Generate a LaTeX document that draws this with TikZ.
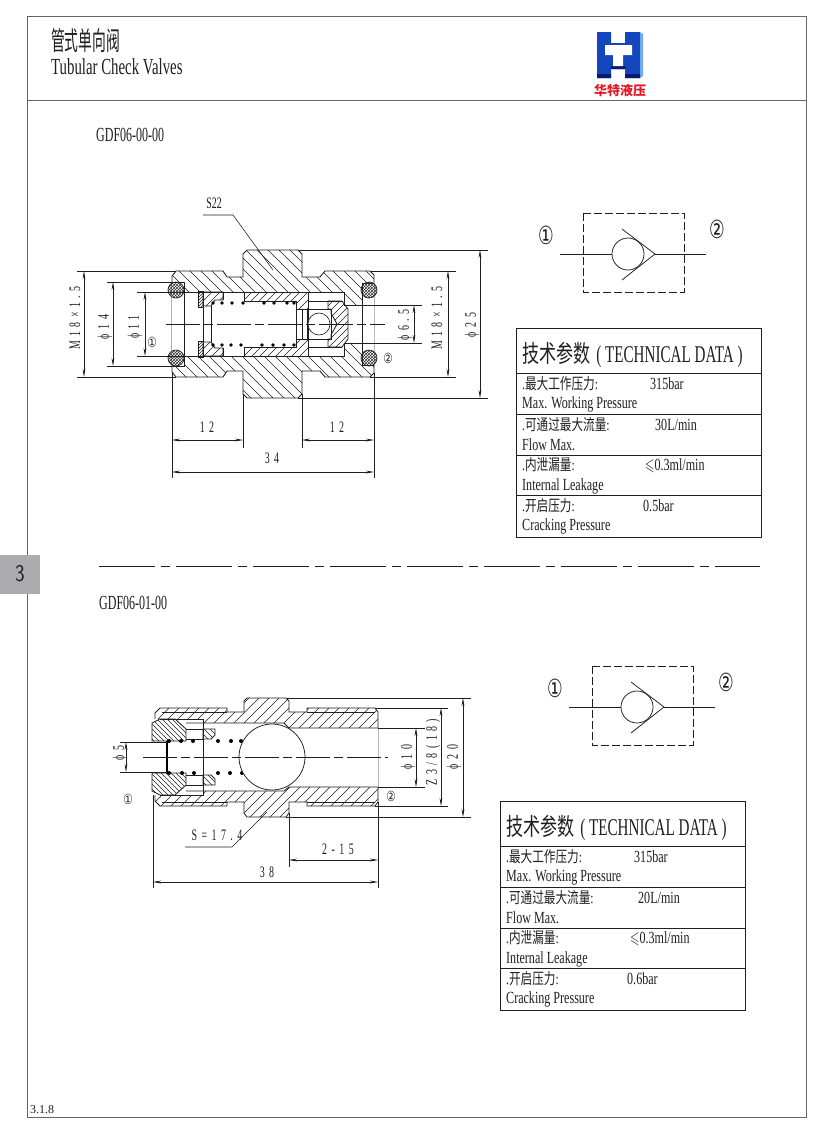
\documentclass[tikz,border=0pt]{standalone}
\usepackage{fontspec}
\usepackage{graphicx}
\usepackage{amssymb}
\usetikzlibrary{arrows.meta,patterns,shadings}
\setmainfont{Liberation Serif}
\newfontfamily\cjk{Noto Sans CJK SC}
\newfontfamily\circf{DejaVu Sans}
\newfontfamily\dimf[LetterSpace=45]{Liberation Serif}
\definecolor{ink}{gray}{0.12}
\definecolor{frame}{gray}{0.4}
\definecolor{tabgray}{RGB}{172,172,176}
\definecolor{logoblue}{RGB}{20,70,190}
\definecolor{logolight}{RGB}{110,170,240}
\definecolor{logodark}{RGB}{10,25,110}
\newcommand\nar[2][.71]{\scalebox{#1}[1]{#2}}
\newcommand\dimt[1]{\fontsize{16}{16}\selectfont\nar[.62]{\dimf #1}}
\newcommand\zh[1]{{\cjk #1}}
\newcommand\hatchB[3]{\begin{scope}\clip #1;\foreach \i in {100,#3,...,520}{\draw[hatchline] (\i-130,#2-130) -- (\i+130,#2+130);}\end{scope}}
\newcommand\hatchS[3]{\begin{scope}\clip #1;\foreach \i in {100,#3,...,520}{\draw[hatchline] (\i-130,#2+130) -- (\i+130,#2-130);}\end{scope}}
\tikzset{
  x=1pt,y=-1pt,
  hatchline/.style={line width=.5pt,draw=ink},
  part/.style={line width=.85pt,draw=ink},
  heavy/.style={line width=1.2pt,draw=black},
  thinl/.style={line width=.55pt,draw=ink},
  dimline/.style={line width=.55pt,draw=ink,{Stealth[length=8pt,width=2.8pt]}-{Stealth[length=8pt,width=2.8pt]}},
  centre/.style={line width=.5pt,draw=ink,dash pattern=on 34pt off 4pt on 9pt off 4pt},
  dimtext/.style={inner sep=0pt,text=ink},
  txt/.style={inner sep=0pt,anchor=west,text=ink,font=\fontsize{17}{17}\selectfont},
  zhtxt/.style={inner sep=0pt,anchor=west,text=ink,font=\fontsize{15.5}{15.5}\selectfont},
  dotm/.style={fill=black,draw=none},
  oring/.style={draw=ink,line width=.7pt,pattern=crosshatch,pattern color=black!80},
  box/.style={line width=.9pt,draw=ink},
  symb/.style={line width=.75pt,draw=ink},
  symbdash/.style={line width=.7pt,draw=ink,dash pattern=on 8pt off 3pt}
}
\newcommand\circn[1]{\fontsize{14}{14}\selectfont\nar[.75]{\circf #1}}
\newcommand\circb[1]{\fontsize{25}{25}\selectfont\nar[.7]{\circf #1}}
\newcommand\techtable[9]{%
\begin{scope}[shift={(#2,#3)}]
  \draw[box] (0,0) rectangle (245,209);
  \draw[thinl] (0,45) -- (245,45) (0,86) -- (245,86) (0,127) -- (245,127) (0,167) -- (245,167);
  \node[txt] (#1t) at (6,27) {\fontsize{24}{24}\selectfont\nar[.71]{\zh{技术参数}}\hspace{6pt}\nar[.63]{( TECHNICAL DATA )}};
  \node[zhtxt] (#1a) at (6,56) {\nar[.75]{.\zh{最大工作压力}:}};
  \node[txt] (#1av) at (#4,56) {\nar{315bar}};
  \node[txt] (#1b) at (6,76) {\nar{Max. Working Pressure}};
  \node[zhtxt] (#1c) at (6,97) {\nar[.75]{.\zh{可通过最大流量}:}};
  \node[txt] (#1cv) at (#5,97) {\nar{#6}};
  \node[txt] (#1d) at (6,117) {\nar{Flow Max.}};
  \node[zhtxt] (#1e) at (6,137) {\nar[.75]{.\zh{内泄漏量}:}};
  \node[txt] (#1ev) at (#7,138) {\nar{$\leqslant$0.3ml/min}};
  \node[txt] (#1f) at (6,158) {\nar{Internal Leakage}};
  \node[zhtxt] (#1g) at (6,178) {\nar[.75]{.\zh{开启压力}:}};
  \node[txt] (#1gv) at (#8,178) {\nar{#9}};
  \node[txt] (#1h) at (6,198) {\nar{Cracking Pressure}};
\end{scope}}
\newcommand\checksym[2]{%
\begin{scope}[shift={(#2)}]
  \draw[symbdash] (583,213) rectangle (684,292);
  \coordinate (#1a) at (560,254); \coordinate (#1b) at (706,254);
  \node[circle,draw=ink,line width=.75pt,minimum size=32pt,inner sep=0pt] (#1c) at (628,254) {};
  \coordinate (#1t) at (655,254);
  \draw[symb] (#1a) -- (#1c.west);
  \draw[symb] (#1t) -- (#1b);
  \draw[symb] (622,229) -- (#1t) -- (622,280);
  \node[inner sep=0pt,text=ink] (#1n) at (546,235) {\circb{①}};
  \node[inner sep=0pt,text=ink] (#1m) at (717,229) {\circb{②}};
\end{scope}}
\begin{document}
\begin{tikzpicture}
\useasboundingbox (0,0) rectangle (831,1128);
\fill[white] (0,0) rectangle (831,1128);
% frame and header
\draw[line width=.8pt,draw=frame] (27,16) rectangle (806,1117);
\draw[line width=.8pt,draw=frame] (27,100) -- (806,100);
\node[txt,font=\fontsize{26}{26}\selectfont] (titlezh) at (51,41) {\nar[.53]{\zh{管式单向阀}}};
\node[txt,font=\fontsize{23}{23}\selectfont] (titleen) at (51,67) {\nar[.645]{Tubular Check Valves}};
\node[txt,font=\fontsize{20}{20}\selectfont] (modela) at (96,135) {\nar[.6]{GDF06-00-00}};
\node[txt,font=\fontsize{20}{20}\selectfont] (modelb) at (99,603) {\nar[.6]{GDF06-01-00}};
\node[txt,font=\fontsize{12}{12}\selectfont] (pageno) at (30,1110) {3.1.8};
% logo
\fill[logoblue] (597,32) -- (611,32) -- (611,43) -- (625,43) -- (625,32) -- (640,32) -- (640,78) -- (625,78) -- (625,69) -- (611,69) -- (611,78) -- (597,78) -- cycle;
\fill[logolight] (640,32) -- (643,34) -- (643,76) -- (640,78) -- cycle;
\fill[logodark] (597,74) rectangle (611,78) (625,74) rectangle (640,78) (611,66) rectangle (625,69);
\fill[white] (605,45) rectangle (632,55) (613,55) rectangle (623,66);
\node[inner sep=0pt,text={rgb,255:red,225;green,25;blue,35},font=\fontsize{13}{13}\selectfont\bfseries] (logotext) at (620,91) {\zh{华特液压}};
% tab
\fill[tabgray] (0,555) rectangle (40,594);
\node[inner sep=0pt,text=ink,font=\fontsize{24}{24}\selectfont] (tabn) at (20,574) {\nar[.85]{\sffamily 3}};
% separator
\draw[line width=.6pt,draw=ink,dash pattern=on 56pt off 6pt on 9pt off 6pt] (99,566) -- (760,566);

%%%%%%%%%%%% valve 1
\def\bodyA{(172,276) -- (176,271) -- (223,271) -- (227,277) -- (243,277) -- (243,254) -- (247,250) -- (298,250) -- (302,254) -- (302,277) -- (320,277) -- (325,271) -- (370,271) -- (374,275) -- (374,373) -- (370,377) -- (325,377) -- (320,371) -- (302,371) -- (302,394) -- (298,398) -- (247,398) -- (243,394) -- (243,371) -- (227,371) -- (223,377) -- (176,377) -- (172,372) -- cycle}
\hatchB{\bodyA}{324}{111}
\draw[part] \bodyA;
\fill[white] (172,282) -- (184,282) -- (184,292) -- (344,292) -- (344,305) -- (362,305) -- (362,283) -- (374,283) -- (374,365) -- (362,365) -- (362,343) -- (344,343) -- (344,356) -- (184,356) -- (184,366) -- (172,366) -- cycle;
\draw[part] (172,282) -- (184,282) -- (184,366) -- (172,366);
\draw[part] (184,292) -- (344,292) -- (344,305) -- (362,305) -- (362,283) -- (374,283);
\draw[part] (184,356) -- (344,356) -- (344,343) -- (362,343) -- (362,365) -- (374,365);
\draw[part] (362,283) -- (362,365);
% sleeve pieces, upper and lower
\def\sA{(203,292) -- (223,292) -- (223,300) -- (215,300) -- (211,306) -- (203,306) -- cycle}
\def\sB{(203,356) -- (223,356) -- (223,348) -- (215,348) -- (211,342) -- (203,342) -- cycle}
\def\sC{(244,292) -- (308,292) -- (308,309) -- (296,309) -- (296,301) -- (244,301) -- cycle}
\def\sD{(244,356) -- (308,356) -- (308,339) -- (296,339) -- (296,347) -- (244,347) -- cycle}
\def\sE{(198,291) rectangle (203,307)}
\def\sF{(198,341) rectangle (203,357)}
\hatchS{\sA}{324}{108}\draw[part] \sA;
\hatchS{\sB}{324}{108}\draw[part] \sB;
\hatchS{\sC}{324}{108}\draw[part] \sC;
\hatchS{\sD}{324}{108}\draw[part] \sD;
\hatchS{\sE}{324}{103}\draw[part] \sE;
\hatchS{\sF}{324}{103}\draw[part] \sF;
\draw[thinl] (211,306) -- (211,342);
\draw[part] (223,300) -- (223,292) (223,348) -- (223,356);
\draw[thinl] (203,306) -- (203,342);
\draw[part] (296,309) -- (296,339);
\draw[thinl] (302,309) -- (302,339);
% cage and poppet
\draw[part] (308,301) -- (342,301) (308,347) -- (342,347);
\draw[part] (308,292) -- (308,356);
\def\pop{(328,301) -- (342,301) -- (348,309) -- (348,339) -- (342,347) -- (328,347) -- (328,339) -- (331,339) -- (331,335) -- (337,324) -- (331,313) -- (331,309) -- (328,309) -- cycle}
\hatchS{\pop}{324}{107}
\draw[part] \pop;
\draw[part] (307,309) rectangle (331,339);
\node[circle,draw=ink,line width=.65pt,fill=white,minimum size=22pt,inner sep=0pt] (ballA) at (319,324) {};
% springs
\foreach \x in {213,222,232,243,264,274,287,294}{\fill[dotm] (\x,303) circle (1.9);}
\foreach \x in {213,222,231,241,262,273,284,294}{\fill[dotm] (\x,345) circle (1.9);}
% O-rings
\node[circle,oring,minimum size=16pt,inner sep=0pt] (ringa) at (176,290) {};
\node[circle,oring,minimum size=16pt,inner sep=0pt] (ringb) at (176,358) {};
\node[circle,oring,minimum size=16pt,inner sep=0pt] (ringc) at (369,290) {};
\node[circle,oring,minimum size=16pt,inner sep=0pt] (ringd) at (369,358) {};
\draw[centre] (166,324) -- (385,324);
% dims valve 1
\draw[thinl] (77,271) -- (176,271) (77,377) -- (176,377);
\draw[dimline] (84,271) -- (84,377);
\node[dimtext,rotate=90] (d1a) at (75,318) {\dimt{M18×1.5}};
\draw[thinl] (107,282) -- (172,282) (107,366) -- (172,366);
\draw[dimline] (113,282) -- (113,366);
\node[dimtext,rotate=90] (d1b) at (105,327) {\dimt{ϕ14}};
\draw[thinl] (137,292) -- (184,292) (137,356) -- (184,356);
\draw[dimline] (145,292) -- (145,356);
\node[dimtext,rotate=90] (d1c) at (135,327) {\dimt{ϕ11}};
\node[inner sep=0pt,text=ink] (p1a) at (152,342) {\circn{①}};
\node[inner sep=0pt,text=ink] (p1b) at (388,358) {\circn{②}};
\draw[thinl] (348,305) -- (422,305) (348,343) -- (422,343);
\draw[dimline] (414,305) -- (414,343);
\node[dimtext,rotate=90] (d1d) at (405,325) {\dimt{ϕ6.5}};
\draw[thinl] (370,271) -- (456,271) (370,377) -- (456,377);
\draw[dimline] (448,271) -- (448,377);
\node[dimtext,rotate=90] (d1e) at (437,318) {\dimt{M18×1.5}};
\draw[thinl] (298,250) -- (488,250) (298,398) -- (488,398);
\draw[dimline] (480,250) -- (480,398);
\node[dimtext,rotate=90] (d1f) at (472,325) {\dimt{ϕ25}};
\draw[thinl] (172,372) -- (172,478) (374,373) -- (374,478) (243,394) -- (243,448) (302,394) -- (302,448);
\draw[dimline] (172,440) -- (243,440);
\draw[dimline] (302,440) -- (374,440);
\draw[dimline] (172,472) -- (374,472);
\node[dimtext] (d1g) at (207,427) {\dimt{12}};
\node[dimtext] (d1h) at (337,427) {\dimt{12}};
\node[dimtext] (d1i) at (272,458) {\dimt{34}};
\node[dimtext] (d1j) at (214,203) {\fontsize{16}{16}\selectfont\nar[.62]{S22}};
\draw[thinl] (203,215) -- (233,215) -- (273,270);

%%%%%%%%%%%% valve 2
\def\bodyB{(155,713) -- (160,708) -- (227,708) -- (227,712) -- (244,712) -- (244,701) -- (247,698) -- (286,698) -- (289,701) -- (289,712) -- (307,712) -- (307,708) -- (375,708) -- (378,712) -- (378,802) -- (375,806) -- (307,806) -- (307,802) -- (289,802) -- (289,813) -- (286,817) -- (247,817) -- (244,813) -- (244,802) -- (227,802) -- (227,806) -- (160,806) -- (155,801) -- cycle}
\hatchS{\bodyB}{757}{110}
\draw[part] \bodyB;
\fill[white] (150,719) -- (203,719) -- (203,723) -- (284,723) -- (289,728) -- (378,728) -- (378,787) -- (289,787) -- (284,791) -- (203,791) -- (203,795) -- (150,795) -- cycle;
\draw[part] (160,719) -- (203,719) -- (203,795) -- (160,795);
\draw[part] (186,723) -- (284,723) -- (289,728) -- (378,728);
\draw[part] (186,791) -- (284,791) -- (289,787) -- (378,787);
\draw[thinl] (162,712) -- (227,712) (307,712) -- (375,712) (162,802) -- (227,802) (307,802) -- (375,802);
\def\plugA{(152,723) -- (160,719) -- (175,719) -- (186,729) -- (186,741) -- (152,741) -- cycle}
\def\plugB{(152,791) -- (160,795) -- (175,795) -- (186,785) -- (186,773) -- (152,773) -- cycle}
\hatchB{\plugA}{757}{105}\draw[part] \plugA;
\hatchB{\plugB}{757}{105}\draw[part] \plugB;
\def\cageA{(203,729) -- (215,729) -- (215,735) -- (211,739) -- (203,739) -- cycle}
\def\cageB{(203,785) -- (215,785) -- (215,779) -- (211,775) -- (203,775) -- cycle}
\hatchB{\cageA}{757}{106}\draw[part] \cageA;
\hatchB{\cageB}{757}{106}\draw[part] \cageB;
\draw[part] (186,729) -- (203,729) (186,739) -- (203,739) (186,785) -- (203,785) (186,775) -- (203,775);
\draw[heavy] (167,741) -- (167,773);
\foreach \x in {169,181,193,218,231,241}{\fill[dotm] (\x,741) circle (2);}
\foreach \x in {169,182,194,218,230,242}{\fill[dotm] (\x,773) circle (2);}
\node[circle,draw=ink,line width=.75pt,fill=white,minimum size=66pt,inner sep=0pt] (ballB) at (272,757) {};
\draw[centre] (143,757) -- (388,757);
% dims valve 2
\draw[thinl] (120,742) -- (167,742) (120,772) -- (167,772);
\draw[dimline] (126,742) -- (126,772);
\node[dimtext,rotate=90] (d2a) at (120,753) {\dimt{ϕ5}};
\node[inner sep=0pt,text=ink] (p2a) at (128,799) {\circn{①}};
\node[inner sep=0pt,text=ink] (p2b) at (391,796) {\circn{②}};
\draw[thinl] (378,728) -- (425,728) (378,787) -- (425,787);
\draw[dimline] (416,728) -- (416,787);
\node[dimtext,rotate=90] (d2b) at (408,757) {\dimt{ϕ10}};
\draw[thinl] (375,708) -- (448,708) (375,806) -- (448,806);
\draw[dimline] (441,708) -- (441,806);
\node[dimtext,rotate=90] (d2c) at (433,752) {\dimt{Z3/8(18)}};
\draw[thinl] (286,698) -- (471,698) (286,817) -- (471,817);
\draw[dimline] (463,698) -- (463,817);
\node[dimtext,rotate=90] (d2d) at (454,757) {\dimt{ϕ20}};
\draw[thinl] (289,813) -- (289,867) (378,802) -- (378,888) (153,795) -- (153,888);
\draw[dimline] (289,860) -- (378,860);
\draw[dimline] (153,882) -- (378,882);
\node[dimtext] (d2e) at (338,849) {\dimt{2-15}};
\node[dimtext] (d2f) at (267,872) {\dimt{38}};
\node[dimtext] (d2g) at (217,835) {\dimt{S=17.4}};
\draw[thinl] (185,847) -- (232,847) -- (267,812);

%%%%%%%%%%%% symbols and tables
\checksym{sa}{0,0}
\checksym{sb}{9,453}
\techtable{ta}{516}{328}{134}{139}{30L/min}{129}{127}{0.5bar}
\techtable{tb}{500}{801}{134}{138}{20L/min}{130}{127}{0.6bar}
\end{tikzpicture}
\end{document}
